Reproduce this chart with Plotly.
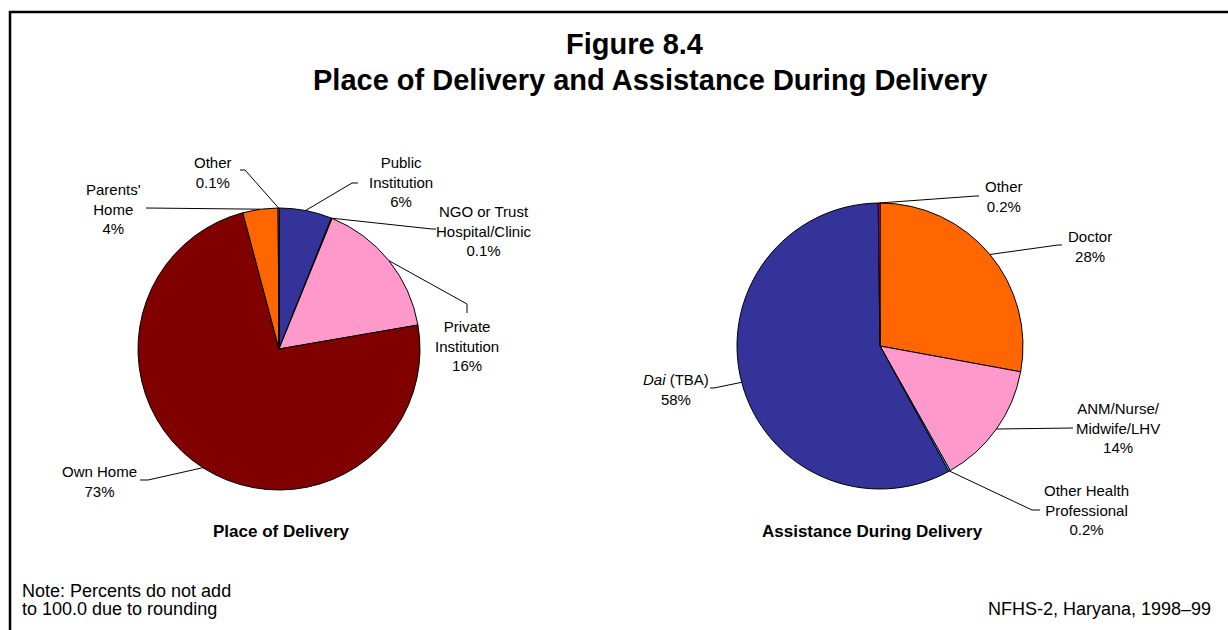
import math
import plotly.graph_objects as go

W, H = 1228, 630
FONT = "Liberation Sans, Arial, sans-serif"

# ---- data -------------------------------------------------------------
place_labels = ["Public Institution", "NGO or Trust Hospital/Clinic",
                "Private Institution", "Own Home", "Parents' Home", "Other"]
place_values = [6, 0.1, 16, 73, 4, 0.1]
place_text = ["Public<br>Institution<br>6%", "NGO or Trust<br>Hospital/Clinic<br>0.1%",
              "Private<br>Institution<br>16%", "Own Home<br>73%",
              "Parents'<br>Home<br>4%", "Other<br>0.1%"]
place_colors = ["#333399", "#993366", "#FF99CC", "#800000", "#FF6600", "#FFFF99"]

assist_labels = ["Doctor", "ANM/Nurse/Midwife/LHV", "Other Health Professional",
                 "Dai (TBA)", "Other"]
assist_values = [28, 14, 0.2, 58, 0.2]
assist_text = ["Doctor<br>28%", "ANM/Nurse/<br>Midwife/LHV<br>14%",
               "Other Health<br>Professional<br>0.2%", "<i>Dai</i> (TBA)<br>58%",
               "Other<br>0.2%"]
assist_colors = ["#FF6600", "#FF99CC", "#00CCFF", "#333399", "#FF00FF"]

# ---- layout of the two pies (pixel centre + radius) -------------------
PIES = [
    dict(cx=279, cy=349, r=141),
    dict(cx=880, cy=346, r=143),
]

# leader-line routing: bend points and label anchor for each slice
place_route = [
    dict(pts=[(352, 183), (358, 183)], lab=(401, 182)),
    dict(pts=[(432, 229), (436, 229)], lab=(484, 231)),
    dict(pts=[(467, 304), (467, 313)], lab=(467, 346)),
    dict(pts=[(148, 480), (140, 480)], lab=(99, 481)),
    dict(pts=[(146, 208)], lab=(113, 209)),
    dict(pts=[(245, 170), (240, 170)], lab=(213, 172)),
]
assist_route = [
    dict(pts=[(1058, 245), (1062, 245)], lab=(1090, 246)),
    dict(pts=[(1073, 428)], lab=(1118, 428)),
    dict(pts=[(1032, 510), (1040, 510)], lab=(1086, 510)),
    dict(pts=[(714, 388), (710, 388)], lab=(676, 389)),
    dict(pts=[(976, 196), (979, 196)], lab=(1004, 196)),
]


def domain(p):
    return dict(x=[(p["cx"] - p["r"]) / W, (p["cx"] + p["r"]) / W],
                y=[1 - (p["cy"] + p["r"]) / H, 1 - (p["cy"] - p["r"]) / H])


fig = go.Figure()

for p, labels, values, colors in [
    (PIES[0], place_labels, place_values, place_colors),
    (PIES[1], assist_labels, assist_values, assist_colors),
]:
    fig.add_trace(go.Pie(
        labels=labels, values=values, domain=domain(p),
        sort=False, direction="clockwise", rotation=0,
        textinfo="none", hoverinfo="label+value",
        marker=dict(colors=colors, line=dict(color="black", width=1)),
        showlegend=False,
    ))

# invisible pixel-space axes used to place lines and text
fig.update_xaxes(range=[0, W], visible=False, fixedrange=True)
fig.update_yaxes(range=[H, 0], visible=False, fixedrange=True)

shapes = []
annotations = []


def leader(p, values, texts, routes):
    total = sum(values)
    cum = 0.0
    for v, t, rt in zip(values, texts, routes):
        ang = math.radians((cum + v / 2) / total * 360)
        cum += v
        x0 = p["cx"] + p["r"] * math.sin(ang)
        y0 = p["cy"] - p["r"] * math.cos(ang)
        pts = [(x0, y0)] + rt["pts"]
        path = "M " + " L ".join(f"{x:.1f},{y:.1f}" for x, y in pts)
        shapes.append(dict(type="path", xref="x", yref="y", path=path,
                           line=dict(color="black", width=1), layer="above"))
        annotations.append(dict(x=rt["lab"][0], y=rt["lab"][1], xref="x", yref="y",
                                text=t, showarrow=False, xanchor="center",
                                yanchor="middle", align="center",
                                font=dict(family=FONT, size=15, color="black")))


leader(PIES[0], place_values, place_text, place_route)
leader(PIES[1], assist_values, assist_text, assist_route)

# outer frame
shapes.append(dict(type="rect", xref="x", yref="y", x0=10, y0=12, x1=W + 20, y1=H + 20,
                   line=dict(color="black", width=2.5), layer="above"))


def txt(x, y, s, size, bold=False, xanchor="center"):
    annotations.append(dict(x=x, y=y, xref="x", yref="y", showarrow=False,
                            text=f"<b>{s}</b>" if bold else s,
                            xanchor=xanchor, yanchor="middle",
                            font=dict(family=FONT, size=size, color="black")))


txt(634, 44, "Figure 8.4", 29, bold=True)
txt(650, 80, "Place of Delivery and Assistance During Delivery", 29, bold=True)
txt(281, 531, "Place of Delivery", 17, bold=True)
txt(872, 531, "Assistance During Delivery", 17, bold=True)
txt(20, 591, "Note: Percents do not add", 18, xanchor="left")
txt(20, 609, "to 100.0 due to rounding", 18, xanchor="left")
txt(1213, 609, "NFHS-2, Haryana, 1998\u201399", 18, xanchor="right")

fig.update_layout(
    width=W, height=H,
    margin=dict(l=0, r=0, t=0, b=0),
    paper_bgcolor="white", plot_bgcolor="white",
    shapes=shapes, annotations=annotations,
    font=dict(family=FONT),
)

fig.write_html("out.html")
